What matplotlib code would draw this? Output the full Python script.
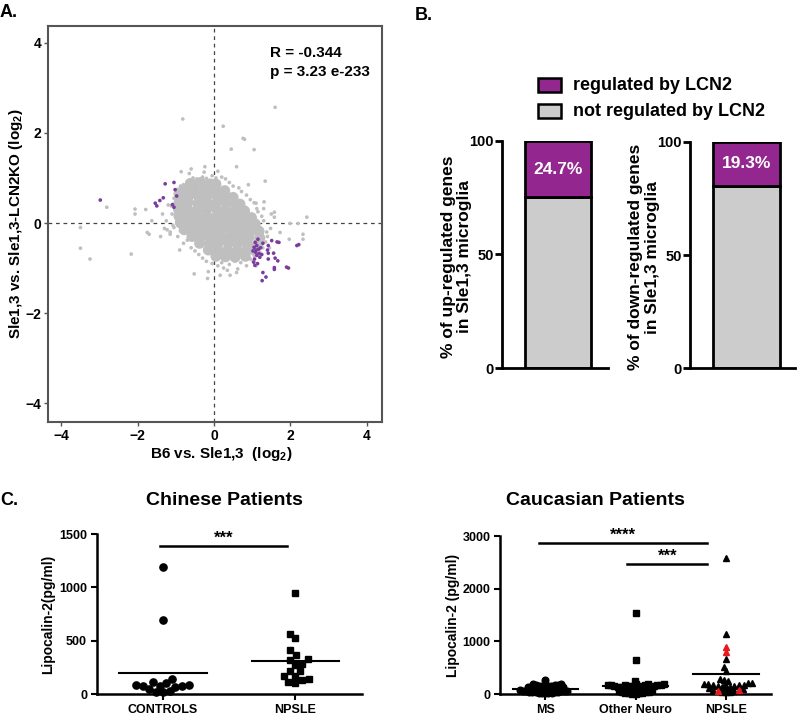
import numpy as np
import matplotlib
matplotlib.use('Agg')
from matplotlib import pyplot as plt
from matplotlib.patches import Rectangle

plt.rcParams['font.family'] = ['Liberation Sans', 'DejaVu Sans']
plt.rcParams['font.weight'] = 'bold'
plt.rcParams['axes.labelweight'] = 'bold'
plt.rcParams['mathtext.default'] = 'regular'

# ---------------- data: panel A (log2 fold changes) ----------------
# dense core of the gray cloud
core_x = [-0.62, -0.35, -0.1, 0.05,
          -0.78, -0.52, -0.25, 0.02, 0.28,
          -0.9, -0.65, -0.4, -0.15, 0.1, 0.33, 0.5,
          -0.92, -0.68, -0.42, -0.18, 0.08, 0.32, 0.55, 0.68,
          -0.93, -0.7, -0.45, -0.2, 0.05, 0.3, 0.55, 0.8,
          -0.92, -0.68, -0.42, -0.18, 0.08, 0.33, 0.58, 0.82, 0.98,
          -0.88, -0.62, -0.38, -0.12, 0.12, 0.38, 0.62, 0.88, 1.08,
          -0.78, -0.52, -0.28, -0.02, 0.22, 0.48, 0.72, 0.98, 1.18,
          -0.58, -0.32, -0.08, 0.18, 0.42, 0.68, 0.92, 1.2,
          -0.38, -0.12, 0.12, 0.38, 0.62, 0.88, 1.15,
          -0.15, 0.1, 0.35, 0.6, 0.85, 1.05,
          0.05, 0.3, 0.55, 0.82]
core_y = [0.88, 0.9, 0.87, 0.86,
          0.74, 0.76, 0.73, 0.75, 0.72,
          0.6, 0.61, 0.59, 0.62, 0.6, 0.58, 0.57,
          0.45, 0.46, 0.44, 0.45, 0.47, 0.44, 0.43, 0.42,
          0.3, 0.31, 0.29, 0.3, 0.32, 0.29, 0.28, 0.27,
          0.15, 0.16, 0.14, 0.15, 0.16, 0.14, 0.13, 0.12, 0.12,
          0.0, 0.01, -0.01, 0.0, 0.02, -0.01, -0.02, -0.03, -0.02,
          -0.15, -0.14, -0.16, -0.15, -0.14, -0.16, -0.17, -0.16, -0.18,
          -0.3, -0.29, -0.31, -0.3, -0.31, -0.32, -0.31, -0.33,
          -0.45, -0.46, -0.44, -0.45, -0.46, -0.47, -0.46,
          -0.6, -0.61, -0.6, -0.62, -0.61, -0.6,
          -0.74, -0.75, -0.76, -0.74]
# scattered gray genes around the core
fringe_x = [-1.05, -1.1, -1.05, -0.95, -0.8, -0.6, -0.4, -0.2, 0.1, 0.4, 0.7, 0.95,
            1.2, 1.35, 1.38, 1.3, 1.15, 1.05, 0.85, 0.65, 0.4, 0.2, -0.05, -0.3,
            -0.55, -0.8, -0.95, -1.2, -1.25, -1.15, -0.9, 0.25, 0.85, 1.45, 1.5,
            0.9, -0.65, -1.35, 1.1,
            -0.82, 1.6, 0.24, 0.76, 0.8, 1.05, 0.45, 0.59, -0.24, -0.86, 1.34,
            -2.81, -2.07, -2.07, -1.79, -3.5, -3.5, -3.25, -2.17, -1.75, -1.7,
            -1.63, -1.23, -1.3, -1.15, -0.52, -0.17, 0.16, 0.42, 0.59, 2.43,
            1.99, 2.2, 2.33, 2.33, 1.97, 1.73, 1.58, 1.58, 1.31, 1.3, 1.1,
            0.1, 0.12, -0.26, -0.5, -0.42,
            -1.0, -1.12, -0.98, -0.88, -0.7, -0.5, -0.3, -0.05, 0.2, 0.55, 0.8,
            1.05, 1.28, 1.4, 1.25, 1.12, 0.95, 0.72, 0.5, 0.3, 0.05, -0.2, -0.45,
            -0.7, -0.88, -1.02, -1.08, 0.35, 0.62, 1.02, -0.15, -0.6, 1.48, -1.4]
fringe_y = [0.55, 0.2, -0.1, -0.3, -0.45, -0.55, -0.7, -0.85, -0.95, -0.92, -0.88, -0.8,
            -0.65, -0.42, -0.2, 0.05, 0.25, 0.45, 0.62, 0.78, 0.9, 1.02, 1.05, 1.02,
            1.0, 0.85, 0.75, 0.4, 0.05, -0.25, -0.6, -1.0, -0.95, -0.55, 0.2,
            0.85, 1.1, 0.2, -0.95,
            2.31, 2.57, 2.15, 1.88, 1.86, 1.63, 1.64, 1.25, 1.25, 1.14, 0.93,
            0.35, 0.31, 0.2, 0.3, -0.1, -0.56, -0.8, -0.69, -0.21, -0.25,
            0.05, -0.15, -0.12, -0.2, -1.13, -1.23, -1.16, -1.16, -1.1, 0.13,
            -0.01, -0.01, -0.25, -0.36, -0.36, -0.21, 0.24, 0.13, 0.47, 0.32, 0.44,
            1.15, 0.92, 1.13, 0.93, 0.95,
            0.72, 0.38, 0.02, -0.18, -0.38, -0.62, -0.78, -0.9, -0.88, -0.85, -0.76,
            -0.72, -0.55, -0.3, 0.15, 0.32, 0.52, 0.7, 0.82, 0.98, 1.0, 0.99, 0.98,
            0.92, 0.82, 0.65, -0.05, -1.05, -1.02, -0.85, -1.08, 1.2, -0.12, -0.3]
# genes regulated by LCN2 (purple)
lcn2_x = [-2.98, -1.54, -1.5, -1.42, -1.28, -1.05, -1.02, -0.98, -1.09, -1.05, -1.33,
          1.28, 1.42, 1.51, 1.7, 1.65, 1.4, 1.42, 1.56, 1.6, 1.42, 1.67, 1.58, 1.58,
          1.9, 1.95, 1.28, 1.36, 1.26, 2.17, 2.22,
          1.08, 1.12, 1.05, 1.17, 1.09, 1.12, 1.2, 1.04, 1.07, 1.22, 1.15,
          1.02, 1.1, 1.18, 1.25, 1.06, 1.14]
lcn2_y = [0.51, 0.44, 0.38, 0.5, 0.87, 0.9, 0.74, 0.6, 0.41, 0.35, 0.56,
          -0.45, -0.5, -0.39, -0.43, -0.42, -0.6, -0.67, -0.67, -0.78, -0.8, -0.84,
          -0.99, -1.03, -0.98, -1.0, -1.1, -1.2, -1.28, -0.5, -0.48,
          -0.43, -0.5, -0.54, -0.58, -0.65, -0.72, -0.76, -0.87, -0.94, -0.55, -0.36,
          -0.62, -0.6, -0.68, -0.7, -0.8, -0.9]
r_value = -0.344
p_value = '3.23 e-233'

# ---------------- data: panel B (% of genes) ----------------
up_regulated_pct = 24.7
down_regulated_pct = 19.3

# ---------------- data: panel C (Lipocalin-2, pg/ml) ----------------
chinese_groups = ['CONTROLS', 'NPSLE']
chinese_controls = [100, 80, 75, 70, 30, 20, 22, 45, 75, 78, 80, 108, 140, 690, 1190]
chinese_npsle = [950, 567, 526, 411, 364, 318, 327, 280, 268, 218, 215, 168, 168,
                 131, 137, 100, 115]
chinese_means = [196, 311]

cauc_groups = ['MS', 'Other Neuro', 'NPSLE']
cauc_ms = [15, 18, 22, 24, 27, 30, 33, 36, 40, 44, 48, 52, 56, 60, 65, 70, 74, 79,
           84, 88, 93, 98, 103, 108, 114, 119, 125, 131, 137, 143, 149, 155, 161,
           167, 172, 178, 183, 188, 193, 270]
cauc_other = [1530, 650, 250, 2, 6, 10, 15, 20, 26, 32, 38, 45, 52, 60, 67, 75, 82,
              90, 97, 104, 111, 117, 123, 128, 133, 137, 141, 145, 149, 153, 157,
              160, 163, 166, 169, 172, 175, 178, 181, 184, 187]
cauc_npsle = [2580, 1140, 890, 800, 660, 510, 440, 280, 250, 275,
              200, 195, 185, 175, 165, 150, 135, 115, 95, 70, 60, 45, 30, 40,
              65, 85, 105, 125, 145, 170, 190, 200]
cauc_npsle_red = [0, 0, 1, 1, 0, 0, 0, 0, 0, 0,
                  0, 0, 0, 0, 0, 0, 0, 0, 0, 1, 1, 0, 0, 0,
                  0, 0, 0, 0, 0, 0, 0, 0]
cauc_means = [95, 150, 385]

PURPLE = '#93278f'
GRAY_BAR = '#cccccc'


def swarm(ax, xc, vals, d_px):
    # place points like a beeswarm, working in pixel space of the axes
    vals = np.asarray(vals, float)
    pts = ax.transData.transform(np.column_stack([np.full(len(vals), xc), vals]))
    ypx = pts[:, 1]
    x0 = pts[0, 0]
    offs = np.zeros(len(vals))
    placed = []
    for i in np.argsort(vals, kind='stable'):
        y = ypx[i]
        near = [(px, py) for px, py in placed if abs(py - y) < d_px]
        cands = [0.0]
        for px, py in near:
            dx = np.sqrt(d_px ** 2 - (py - y) ** 2)
            cands += [px - dx, px + dx]
        cands.sort(key=abs)
        best = cands[-1]
        for c in cands:
            if all((c - px) ** 2 + (y - py) ** 2 >= d_px ** 2 - 1e-6 for px, py in near):
                best = c
                break
        placed.append((best, y))
        offs[i] = best
    back = ax.transData.inverted().transform(np.column_stack([x0 + offs, ypx]))
    return back[:, 0]


fig = plt.figure(figsize=(8, 7.23), dpi=100)

# ---------------- panel A ----------------
axA = fig.add_axes([0.06, 0.4163, 0.4175, 0.548])
axA.set_xlim(-4.35, 4.4)
axA.set_ylim(-4.42, 4.38)
axA.axvline(0, color='#444444', lw=0.9, ls=(0, (3, 3)), zorder=1)
axA.axhline(0, color='#444444', lw=0.9, ls=(0, (3, 3)), zorder=1)
axA.scatter(core_x, core_y, s=62, color='#bfbfbf', edgecolors='none', zorder=2)
axA.scatter(fringe_x, fringe_y, s=7, color='#bfbfbf', edgecolors='none', zorder=2)
axA.scatter(lcn2_x, lcn2_y, s=7, color='#7a3c9e', edgecolors='none', zorder=3)
for sp in axA.spines.values():
    sp.set_color('#555555')
    sp.set_linewidth(1.5)
axA.set_xticks([-4, -2, 0, 2, 4])
axA.set_yticks([-4, -2, 0, 2, 4])
axA.tick_params(direction='out', length=3, width=1, color='#555555', labelsize=10, pad=2)
axA.set_xlabel('B6 vs. Sle1,3  (log$_2$)', fontsize=11)
axA.set_ylabel('Sle1,3 vs. Sle1,3-LCN2KO (log$_2$)', fontsize=11)
axA.xaxis.set_label_coords(0.52, -0.058)
axA.yaxis.set_label_coords(-0.07, 0.5)
axA.text(0.665, 0.932, 'R = %.3f' % r_value, transform=axA.transAxes, fontsize=11,
         va='center', ha='left')
axA.text(0.665, 0.884, 'p = ' + p_value, transform=axA.transAxes, fontsize=11,
         va='center', ha='left')

# ---------------- panel B ----------------
b_specs = [([0.6275, 0.491, 0.1325, 0.314], up_regulated_pct, 0.53, 0.62,
            '% of up-regulated genes\nin Sle1,3 microglia', -0.28),
           ([0.8625, 0.491, 0.131, 0.3126], down_regulated_pct, 0.54, 0.64,
            '% of down-regulated genes\nin Sle1,3 microglia', -0.29)]
for rect, reg, xb, wb, lab, lx in b_specs:
    ax = fig.add_axes(rect)
    ax.set_xlim(0, 1)
    ax.set_ylim(0, 100)
    ax.bar([xb], [100 - reg], width=wb, color=GRAY_BAR, edgecolor='black', lw=2, zorder=2)
    ax.bar([xb], [reg], bottom=[100 - reg], width=wb, color=PURPLE, edgecolor='black',
           lw=2, zorder=2)
    ax.text(xb, 100 - reg / 2, '%.1f%%' % reg, color='white', fontsize=12.5,
            ha='center', va='center', zorder=3)
    for s in ['top', 'right']:
        ax.spines[s].set_visible(False)
    for s in ['left', 'bottom']:
        ax.spines[s].set_linewidth(2)
    ax.set_xticks([])
    ax.set_yticks([0, 50, 100])
    ax.tick_params(axis='y', direction='out', length=5, width=2, labelsize=10.5, pad=1)
    ax.set_ylabel(lab, fontsize=12.5, linespacing=1.15)
    ax.yaxis.set_label_coords(lx, 0.49)

# legend of panel B
for (y_top, col, txt) in [(78, PURPLE, 'regulated by LCN2'),
                          (104, GRAY_BAR, 'not regulated by LCN2')]:
    fig.add_artist(Rectangle((538 / 800, 1 - (y_top + 14) / 723), 23 / 800, 14 / 723,
                             transform=fig.transFigure, facecolor=col,
                             edgecolor='black', lw=1.8))
    fig.text(573 / 800, 1 - (y_top + 7) / 723, txt, fontsize=13, va='center', ha='left')

# ---------------- panel C ----------------
fig.text(0.281, 0.308, 'Chinese Patients', fontsize=14, ha='center', va='center')
fig.text(0.744, 0.308, 'Caucasian Patients', fontsize=14, ha='center', va='center')

axC1 = fig.add_axes([0.121, 0.0401, 0.331, 0.2213])
axC1.set_xlim(0.5, 2.5)
axC1.set_ylim(0, 1500)
axC2 = fig.add_axes([0.625, 0.0401, 0.339, 0.2185])
axC2.set_xlim(0.5, 3.5)
axC2.set_ylim(0, 3000)

for ax, groups, ylab, lx in [(axC1, chinese_groups, 'Lipocalin-2(pg/ml)', -0.158),
                             (axC2, cauc_groups, 'Lipocalin-2 (pg/ml)', -0.148)]:
    for s in ['top', 'right']:
        ax.spines[s].set_visible(False)
    for s in ['left', 'bottom']:
        ax.spines[s].set_linewidth(1.8)
    ax.set_xticks(range(1, len(groups) + 1))
    ax.set_xticklabels(groups, fontsize=9.5, fontweight='bold')
    ax.tick_params(direction='out', length=4, width=1.5, labelsize=9, pad=3)
    ax.set_ylabel(ylab, fontsize=10)
    ax.yaxis.set_label_coords(lx, 0.5)

axC1.set_yticks([0, 500, 1000, 1500])
axC2.set_yticks([0, 1000, 2000, 3000])

# Chinese cohort
xs = swarm(axC1, 1, chinese_controls, 7.0)
axC1.plot(xs, chinese_controls, 'o', color='black', ms=5.2, ls='none', clip_on=False)
xs = swarm(axC1, 2, chinese_npsle, 7.3)
axC1.plot(xs, chinese_npsle, 's', color='black', ms=4.8, ls='none', clip_on=False)
for i, m in enumerate(chinese_means):
    axC1.plot([i + 1 - 0.33, i + 1 + 0.33], [m, m], color='black', lw=1.5)
axC1.plot([0.98, 1.94], [1383, 1383], color='black', lw=1.8, clip_on=False)
axC1.text(1.46, 1390, '***', ha='center', va='bottom', fontsize=12)

# Caucasian cohort
xs = swarm(axC2, 1, cauc_ms, 3.2)
axC2.plot(xs, cauc_ms, 'o', color='black', ms=4.8, ls='none', clip_on=False)
xs = swarm(axC2, 2, cauc_other, 3.4)
axC2.plot(xs, cauc_other, 's', color='black', ms=4.6, ls='none', clip_on=False)
xs = np.asarray(swarm(axC2, 3, cauc_npsle, 4.3))
red = np.asarray(cauc_npsle_red, bool)
vals = np.asarray(cauc_npsle, float)
axC2.plot(xs[~red], vals[~red], '^', color='black', ms=5, ls='none', clip_on=False)
axC2.plot(xs[red], vals[red], '^', color='#e8191c', ms=5, ls='none', clip_on=False,
          zorder=4)
for i, m in enumerate(cauc_means):
    axC2.plot([i + 1 - 0.36, i + 1 + 0.36], [m, m], color='black', lw=1.5)
axC2.plot([0.93, 2.79], [2865, 2865], color='black', lw=1.8, clip_on=False)
axC2.text(1.86, 2880, '****', ha='center', va='bottom', fontsize=12)
axC2.plot([1.91, 2.79], [2467, 2467], color='black', lw=1.8, clip_on=False)
axC2.text(2.35, 2480, '***', ha='center', va='bottom', fontsize=12)

# panel letters
fig.text(0.0, 0.983, 'A.', fontsize=13, ha='left', va='center')
fig.text(0.519, 0.979, 'B.', fontsize=13, ha='left', va='center')
fig.text(0.0, 0.308, 'C.', fontsize=13, ha='left', va='center')

fig.savefig('out.png', dpi=100)
